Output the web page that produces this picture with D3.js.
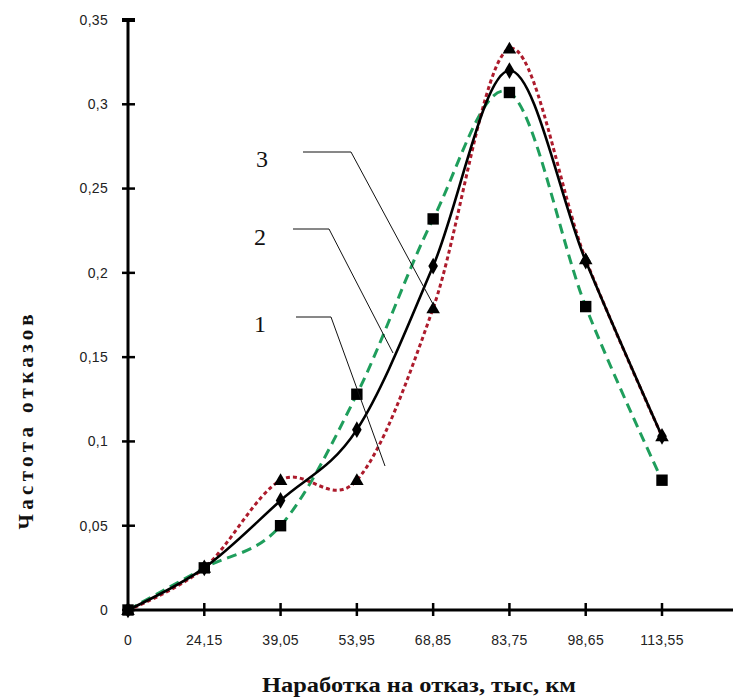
<!DOCTYPE html>
<html lang="ru">
<head>
  <meta charset="UTF-8">
  <title>Частота отказов</title>
  <style>
    body { margin: 0; background: #fff; }
    svg { display: block; }
    .tick-label { font-family: "Liberation Sans", Arial, sans-serif; font-size: 14px; fill: #222; letter-spacing: 0.3px; }
    .axis-title { font-family: "Liberation Serif", "Times New Roman", serif; font-weight: bold; font-size: 21px; fill: #111; }
    .callout { font-family: "Liberation Serif", "Times New Roman", serif; font-size: 24px; fill: #111; }
  </style>
</head>
<body>
<div id="chart"></div>
<script src="https://d3js.org/d3.v7.min.js"></script>
<script>
  // x categories (наработка, тыс. км)
  const xLabels = ['0', '24,15', '39,05', '53,95', '68,85', '83,75', '98,65', '113,55'];
  // series
  const squaresGreen = [0, 0.025, 0.05, 0.128, 0.232, 0.307, 0.18, 0.077];
  const diamondsBlack = [0, 0.025, 0.065, 0.107, 0.204, 0.32, 0.207, 0.103];
  const trianglesRed = [0, 0.025, 0.077, 0.077, 0.179, 0.333, 0.208, 0.103];
  const yTicks = [0, 0.05, 0.1, 0.15, 0.2, 0.25, 0.3, 0.35];
  const callouts = ['3', '2', '1'];

  const width = 734, height = 700;
  const svg = d3.select('#chart').append('svg')
    .attr('width', width)
    .attr('height', height);

  const x = d3.scaleLinear().domain([0, 7]).range([128, 662]);
  const y = d3.scaleLinear().domain([0, 0.35]).range([610, 20]);

  // axes
  svg.append('line')
    .attr('x1', x(0)).attr('x2', x(0))
    .attr('y1', y(0.35)).attr('y2', y(0))
    .attr('stroke', '#000').attr('stroke-width', 3);
  svg.append('line')
    .attr('x1', x(0)).attr('x2', 733)
    .attr('y1', y(0)).attr('y2', y(0))
    .attr('stroke', '#000').attr('stroke-width', 3);

  svg.selectAll('.ytick')
    .data(yTicks)
    .enter().append('line')
    .attr('x1', x(0) - 6).attr('x2', x(0) + 7)
    .attr('y1', d => y(d)).attr('y2', d => y(d))
    .attr('stroke', '#000')
    .attr('stroke-width', d => d === 0.35 ? 4 : 2.5);

  svg.selectAll('.ylabel')
    .data(yTicks)
    .enter().append('text')
    .attr('class', 'tick-label')
    .attr('x', 108)
    .attr('y', d => y(d))
    .attr('dy', '0.35em')
    .attr('text-anchor', 'end')
    .text(d => d === 0 ? '0' : String(d).replace('.', ','));

  svg.selectAll('.xtick')
    .data(xLabels.slice(1))
    .enter().append('line')
    .attr('x1', (d, i) => x(i + 1)).attr('x2', (d, i) => x(i + 1))
    .attr('y1', y(0) - 7).attr('y2', y(0) + 6)
    .attr('stroke', '#000').attr('stroke-width', 2.5);

  svg.selectAll('.xlabel')
    .data(xLabels)
    .enter().append('text')
    .attr('class', 'tick-label')
    .attr('x', (d, i) => x(i))
    .attr('y', 640)
    .attr('dy', '0.35em')
    .attr('text-anchor', 'middle')
    .text(d => d);

  // axis titles
  svg.append('text')
    .attr('class', 'axis-title')
    .attr('transform', 'translate(33,422) rotate(-90)')
    .attr('text-anchor', 'middle')
    .attr('textLength', 215)
    .attr('lengthAdjust', 'spacing')
    .text('Частота  отказов');

  svg.append('text')
    .attr('class', 'axis-title')
    .attr('x', 419)
    .attr('y', 692)
    .attr('text-anchor', 'middle')
    .attr('textLength', 314)
    .attr('lengthAdjust', 'spacingAndGlyphs')
    .style('font-size', '20px')
    .text('Наработка на отказ, тыс, км');

  // curves
  const line = d3.line()
    .x((d, i) => x(i))
    .y(d => y(d))
    .curve(d3.curveCardinal.tension(0));

  svg.append('path')
    .attr('d', line(squaresGreen))
    .attr('fill', 'none')
    .attr('stroke', '#1f9e5c')
    .attr('stroke-width', 3)
    .attr('stroke-dasharray', '10,6');

  svg.append('path')
    .attr('d', line(trianglesRed))
    .attr('fill', 'none')
    .attr('stroke', '#ad1b2c')
    .attr('stroke-width', 3)
    .attr('stroke-dasharray', '4,3');

  svg.append('path')
    .attr('d', line(diamondsBlack))
    .attr('fill', 'none')
    .attr('stroke', '#000')
    .attr('stroke-width', 2.6);

  // markers
  const sq = d3.symbol().type(d3.symbolSquare).size(130);
  const tri = d3.symbol().type(d3.symbolTriangle).size(80);
  const dia = d3.symbol().type(d3.symbolDiamond).size(80);

  svg.selectAll('.m-tri')
    .data(trianglesRed)
    .enter().append('path')
    .attr('d', tri)
    .attr('transform', (d, i) => `translate(${x(i)},${y(d) + 1})`)
    .attr('fill', '#000');

  svg.selectAll('.m-dia')
    .data(diamondsBlack)
    .enter().append('path')
    .attr('d', dia)
    .attr('transform', (d, i) => `translate(${x(i)},${y(d)})`)
    .attr('fill', '#000');

  svg.selectAll('.m-sq')
    .data(squaresGreen)
    .enter().append('path')
    .attr('d', sq)
    .attr('transform', (d, i) => `translate(${x(i)},${y(d)})`)
    .attr('fill', '#000');

  // numbered call-outs with leader lines
  const calloutPos = [
    { tx: 262, ty: 167, pts: [[303, 152], [351, 152], [434, 306]] },
    { tx: 260, ty: 245, pts: [[293, 229], [329, 229], [393, 353]] },
    { tx: 260, ty: 332, pts: [[296, 317], [331, 317], [385, 466]] }
  ];

  calloutPos.forEach((c, i) => {
    svg.append('text')
      .attr('class', 'callout')
      .attr('x', c.tx)
      .attr('y', c.ty)
      .attr('text-anchor', 'middle')
      .text(callouts[i]);
    svg.append('path')
      .attr('d', d3.line()(c.pts))
      .attr('fill', 'none')
      .attr('stroke', '#111')
      .attr('stroke-width', 1);
  });
</script>
</body>
</html>
